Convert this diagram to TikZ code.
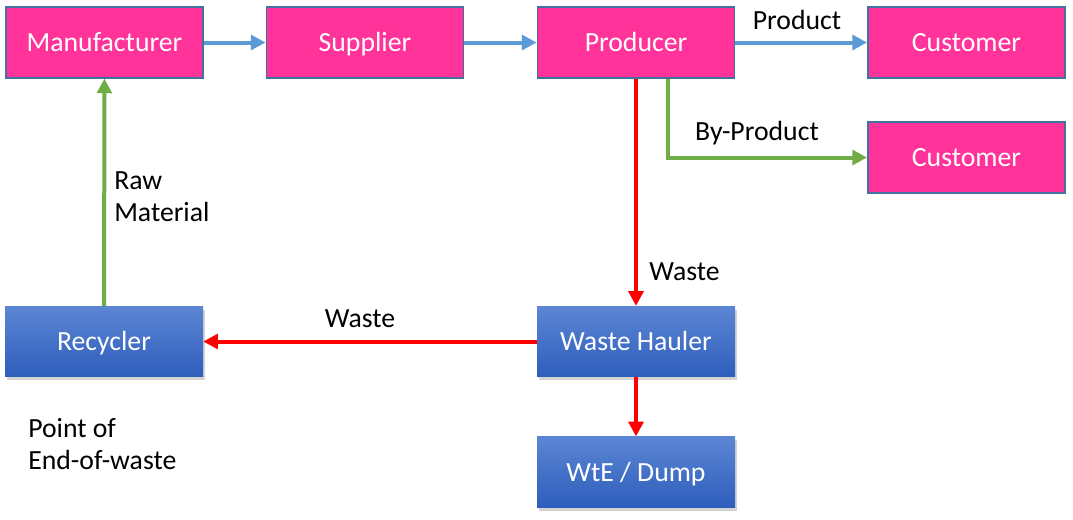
\documentclass[tikz,border=0pt]{standalone}
\usepackage{fontspec}
\setmainfont{Carlito}
\usepackage{tikz}
\usetikzlibrary{arrows.meta,positioning,calc,shadows}
\definecolor{boxpink}{RGB}{255, 51, 153}
\definecolor{pinkedge}{RGB}{65, 113, 156}
\definecolor{flowblue}{RGB}{91, 155, 213}
\definecolor{flowgreen}{RGB}{112, 173, 71}
\definecolor{flowred}{RGB}{255, 0, 0}
\definecolor{haultop}{RGB}{92, 134, 212}
\definecolor{haulbottom}{RGB}{46, 94, 188}

\begin{document}
\begin{tikzpicture}[x=0.75pt, y=-0.75pt,
    every node/.style={font=\fontsize{20.8}{24}\selectfont},
    chainbox/.style={draw=pinkedge, line width=1.1pt, fill=boxpink, text=white, minimum width=148pt, minimum height=53pt, inner sep=0pt, text height=16pt, text depth=2pt},
    wastebox/.style={fill=haulbottom, top color=haultop, bottom color=haulbottom, text=white, minimum width=148.5pt, minimum height=53pt, inner sep=0pt, text height=16pt, text depth=2pt, drop shadow={shadow xshift=1.5pt, shadow yshift=-2.5pt, opacity=0.35}},
    flow/.style={line width=3pt, -{Triangle[length=11pt, width=11pt]}},
    tag/.style={inner sep=0pt, align=left}]
    \useasboundingbox (0,0) rectangle (1073,519);

    % Row 1: supply chain
    \node[chainbox] (manuf) at (104.5, 42.5) {Manufacturer};
    \node[chainbox] (supplier) at (365, 42.5) {Supplier};
    \node[chainbox] (producer) at (636, 42.5) {Producer};
    \node[chainbox] (cust_prod) at (966.5, 42.5) {Customer};
    \node[chainbox] (cust_by) at (966.5, 157.5) {Customer};

    % Row 2: waste handling
    \node[wastebox] (recycler) at (104, 341.5) {Recycler};
    \node[wastebox] (hauler) at (636, 341.5) {Waste Hauler};
    \node[wastebox] (dump) at (636, 472) {WtE / Dump};

    % Labels
    \node[tag] (l_product) at (797, 20) {Product};
    \node[tag] (l_byprod) at (757, 133) {By-Product};
    \node[tag, anchor=west] (l_waste1) at (649, 272) {Waste};
    \node[tag] (l_waste2) at (360, 319) {Waste};
    \node[tag, anchor=west] (l_raw) at (114, 197) {Raw\\Material};
    \node[tag, anchor=west] (l_eow) at (28, 444) {Point of\\End-of-waste};

    % Connectors
    \draw[flow, flowblue] (manuf) -- (supplier);
    \draw[flow, flowblue] (supplier) -- (producer);
    \draw[flow, flowblue] (producer) -- (cust_prod);
    \draw[flow, flowgreen] ($(producer.south)+(32,0)$) |- (cust_by.west);
    \draw[flow, flowred] (producer) -- (hauler);
    \draw[flow, flowred] (hauler) -- (recycler);
    \draw[flow, flowred] (hauler) -- (dump);
    \draw[flow, flowgreen] (recycler) -- (manuf);
\end{tikzpicture}
\end{document}
